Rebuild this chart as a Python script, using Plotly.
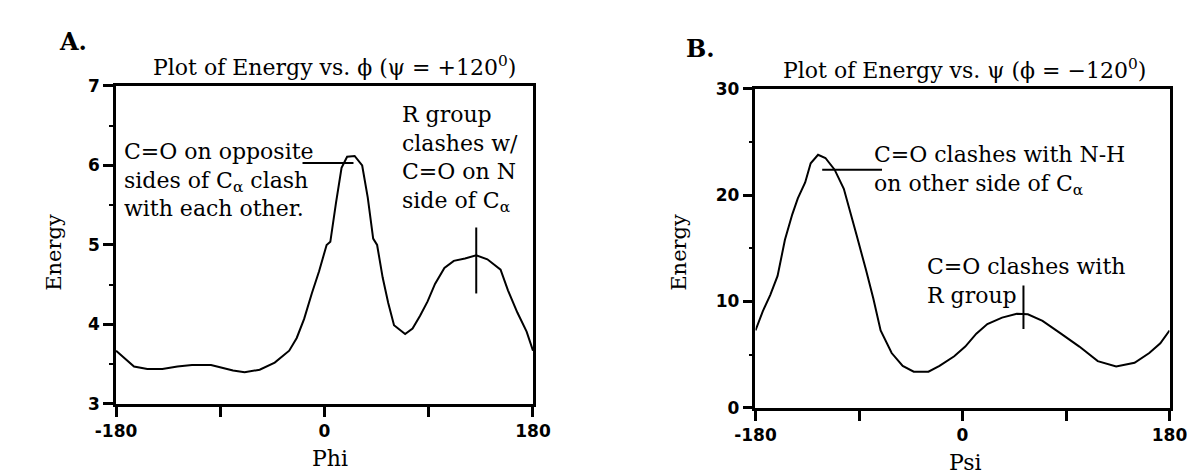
import plotly.graph_objects as go

# Panel A: energy vs phi (psi = +120)
phi_deg = [-180, -164.5, -153, -140, -127, -114.5, -98, -88.6, -79, -69, -56, -43,
           -30.5, -24, -17.6, -11, -4.7, 1.8, 5, 9.9, 14.7, 19.5, 26, 32.5, 37.3,
           42, 45.4, 50.2, 55, 60, 66.4, 69.6, 76, 82.5, 89, 95.4, 103.5, 111.6,
           121.3, 131, 140.6, 152, 158.4, 166.5, 174.5, 180]
energy_phi = [3.67, 3.47, 3.44, 3.44, 3.47, 3.49, 3.49, 3.46, 3.42, 3.40, 3.43, 3.52,
              3.67, 3.83, 4.07, 4.39, 4.67, 5.0, 5.04, 5.53, 5.97, 6.11, 6.12, 6.0, 5.6,
              5.08, 5.0, 4.59, 4.27, 3.99, 3.91, 3.88, 3.95, 4.11, 4.29, 4.51, 4.71, 4.80,
              4.83, 4.87, 4.82, 4.69, 4.43, 4.15, 3.91, 3.67]

# Panel B: energy vs psi (phi = -120)
psi_deg = [-180, -173.6, -167.2, -160.8, -154.4, -148, -143.2, -136.8, -132, -125.6,
           -119.2, -111.2, -103.2, -96.8, -92, -84, -77.6, -71.2, -61.6, -52, -42.4,
           -29.6, -20, -7.2, 2.4, 12, 21.6, 34.4, 47.2, 56.8, 69.6, 85.6, 101.6, 117.6,
           133.6, 149.6, 162.4, 172, 180]
energy_psi = [7.27, 9.1, 10.6, 12.4, 15.8, 18.2, 19.7, 21.2, 23.0, 23.8, 23.5, 22.4,
              20.6, 18.2, 16.2, 13.0, 10.3, 7.27, 5.15, 3.94, 3.39, 3.39, 3.94, 4.85,
              5.76, 6.97, 7.88, 8.48, 8.85, 8.79, 8.18, 6.97, 5.76, 4.39, 3.88, 4.24,
              5.15, 6.06, 7.27]

angle_ticks = [-180, -90, 0, 90, 180]
angle_labels = ['-180', '', '0', '', '180']

# pointer lines: (x0, y0, x1, y1) in data units
pointers_a = [(-19, 6.03, 25, 6.03), (131, 5.22, 131, 4.39)]
pointers_b = [(-122, 22.4, -70, 22.4), (53, 11.5, 53, 7.4)]

W, H = 1195, 473


def px(x):
    return x / W


def py(y):
    return 1 - y / H


SERIF = 'DejaVu Serif'

fig = go.Figure()
fig.add_trace(go.Scatter(x=phi_deg, y=energy_phi, mode='lines',
                         line=dict(color='black', width=2),
                         xaxis='x', yaxis='y', hoverinfo='skip'))
fig.add_trace(go.Scatter(x=psi_deg, y=energy_psi, mode='lines',
                         line=dict(color='black', width=2),
                         xaxis='x2', yaxis='y2', hoverinfo='skip'))

axis_common = dict(
    showline=True, linecolor='black', linewidth=2.5, mirror=True,
    showgrid=False, zeroline=False,
    ticks='outside', ticklen=10, tickwidth=2.5, tickcolor='black',
    tickfont=dict(family='DejaVu Sans', size=17, color='black', weight='bold'),
)
xcommon = dict(axis_common, range=[-180, 180], tickmode='array',
               tickvals=angle_ticks, ticktext=angle_labels)

fig.update_layout(
    width=W, height=H,
    margin=dict(l=0, r=0, t=0, b=0),
    paper_bgcolor='white', plot_bgcolor='white',
    showlegend=False,
    xaxis=dict(xcommon, domain=[px(90), px(521)], anchor='y'),
    yaxis=dict(axis_common, domain=[py(403), py(71)], anchor='x', range=[3, 7],
               dtick=1, minor=dict(dtick=0.5, ticks='outside', ticklen=4,
                                   tickcolor='black', tickwidth=2)),
    xaxis2=dict(xcommon, domain=[px(751), px(1179)], anchor='y2'),
    yaxis2=dict(axis_common, domain=[py(407), py(74)], anchor='x2', range=[0, 30],
                dtick=10, minor=dict(dtick=5, ticks='outside', ticklen=4,
                                     tickcolor='black', tickwidth=2)),
)

for (x0, y0, x1, y1) in pointers_a:
    fig.add_shape(type='line', xref='x', yref='y', x0=x0, y0=y0, x1=x1, y1=y1,
                  line=dict(color='black', width=2))
for (x0, y0, x1, y1) in pointers_b:
    fig.add_shape(type='line', xref='x2', yref='y2', x0=x0, y0=y0, x1=x1, y1=y1,
                  line=dict(color='black', width=2))


def text(x, y, s, size=22, anchor='center', angle=0, family=SERIF):
    fig.add_annotation(x=px(x), y=py(y), xref='paper', yref='paper', text=s,
                       showarrow=False, xanchor=anchor, yanchor='middle',
                       align='left', textangle=angle,
                       font=dict(family=family, size=size, color='black'))


text(46, 25, '<b>A.</b>', size=24)
text(694, 32, '<b>B.</b>', size=24)
text(316, 50, 'Plot of Energy vs. ϕ (ψ = +120<sup>0</sup>)', size=22)
text(967, 53, 'Plot of Energy vs. ψ (ϕ = −120<sup>0</sup>)', size=22)
text(311, 460, 'Phi', size=22)
text(968, 464, 'Psi', size=22)
text(25, 245, 'Energy', size=21, angle=-90)
text(672, 245, 'Energy', size=21, angle=-90)

text(96, 169, 'C=O on opposite<br>sides of C<sub>α</sub> clash<br>with each other.',
     size=22, anchor='left')
text(383, 147, 'R group<br>clashes w/<br>C=O on N<br>side of C<sub>α</sub>',
     size=22, anchor='left')
text(871, 159, 'C=O clashes with N-H<br>on other side of C<sub>α</sub>',
     size=22, anchor='left')
text(926, 275, 'C=O clashes with<br>R group', size=22, anchor='left')

fig.write_html("out.html")
